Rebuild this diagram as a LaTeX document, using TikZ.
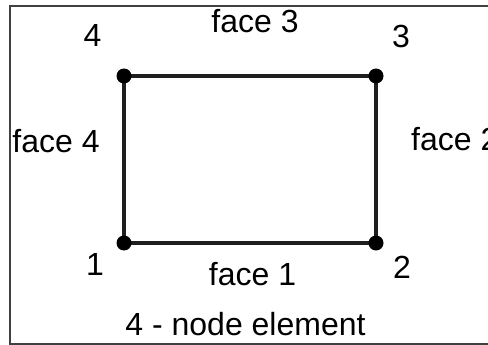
\documentclass[tikz,border=0pt]{standalone}
\usepackage{fontspec}
\setmainfont{Liberation Sans}
\begin{document}
\begin{tikzpicture}[x=1pt,y=-1pt,
  lbl/.style={inner sep=0pt,anchor=base,font=\fontsize{32}{36}\selectfont,text=black},
  edge/.style={line width=3.5pt,draw=black!88},
  vdot/.style={circle,fill=black,inner sep=0pt,minimum size=15pt}]
\useasboundingbox (0,0) rectangle (488,345);
\clip (0,0) rectangle (488,345);
% outer frame (open on the right)
\draw[line width=1.3pt,draw=black!75] (490,6) -- (10,6) -- (10,344) -- (490,344);
% element corners
\coordinate (n1) at (124,243);
\coordinate (n2) at (376,243);
\coordinate (n3) at (376,76);
\coordinate (n4) at (124,76);
\draw[edge] (n1) -- (n2) -- (n3) -- (n4) -- cycle;
\node[vdot] (d1) at (n1) {};
\node[vdot] (d2) at (n2) {};
\node[vdot] (d3) at (n3) {};
\node[vdot] (d4) at (n4) {};
% node numbers
\node[lbl] (l4) at (92.5,47) {4};
\node[lbl] (l3) at (401,48) {3};
\node[lbl] (l1) at (95,275) {1};
\node[lbl] (l2) at (402,278) {2};
% face labels
\node[lbl] (f3) at (255,33) {face 3};
\node[lbl] (f1) at (252.5,285) {face 1};
\node[lbl] (f4) at (56,153) {face 4};
\node[lbl,anchor=base west] (f2) at (411,150) {face 2};
% caption
\node[lbl] (cap) at (245.5,335) {4 - node element};
\end{tikzpicture}
\end{document}
